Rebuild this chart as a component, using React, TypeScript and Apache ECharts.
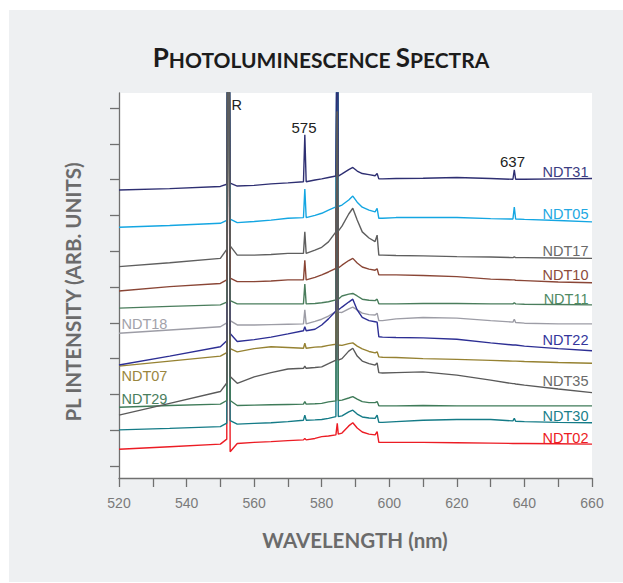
import React, { useEffect, useRef } from "react";
import * as echarts from "echarts";

// Wavelength grid (nm) shared by all spectra
const wavelengths = [520, 535, 550, 551.9, 552.25, 552.4, 552.55, 552.9, 555, 560, 565, 570, 574.6, 575, 575.4, 578, 580, 582, 584.2, 584.6, 584.9, 586, 588, 589.2, 590.5, 592, 594, 595.8, 596.4, 596.9, 598, 602, 610, 620, 630, 636.6, 637, 637.4, 640, 650, 660];

// PL intensity (arb. units, offset stacked)
const ndt31 = [7.71, 7.75, 7.81, 7.87, 14, 14, 14, 7.90, 7.82, 7.84, 7.88, 7.91, 7.94, 9.25, 7.94, 7.99, 8.02, 8.06, 8.10, 14, 8.10, 8.16, 8.28, 8.34, 8.24, 8.17, 8.14, 8.11, 8.17, 8.02, 8.02, 8.03, 8.04, 8.06, 8.03, 8.01, 8.27, 8.01, 8.01, 8.02, 8.03];
const ndt05 = [6.67, 6.72, 6.78, 6.86, 14, 14, 14, 6.90, 6.80, 6.83, 6.87, 6.92, 6.94, 7.74, 6.94, 7.00, 7.06, 7.15, 7.24, 14, 7.25, 7.29, 7.43, 7.54, 7.37, 7.23, 7.15, 7.10, 7.20, 6.92, 6.92, 6.94, 6.94, 6.94, 6.91, 6.90, 7.23, 6.90, 6.89, 6.86, 6.82];
const ndt17 = [5.57, 5.68, 5.80, 6.05, 14, 14, 14, 6.15, 5.89, 5.89, 5.91, 5.94, 5.94, 6.54, 5.94, 6.03, 6.11, 6.26, 6.54, 9.9, 6.56, 6.70, 7.04, 7.20, 6.87, 6.54, 6.37, 6.27, 6.45, 5.89, 5.89, 5.88, 5.87, 5.85, 5.84, 5.82, 5.84, 5.82, 5.82, 5.81, 5.80];
const ndt10 = [4.89, 5.01, 5.10, 5.20, 14, 14, 14, 5.25, 5.15, 5.15, 5.17, 5.20, 5.20, 5.75, 5.20, 5.27, 5.34, 5.42, 5.52, 14, 5.53, 5.61, 5.74, 5.80, 5.67, 5.56, 5.50, 5.47, 5.51, 5.34, 5.34, 5.34, 5.32, 5.29, 5.22, 5.20, 5.20, 5.19, 5.18, 5.14, 5.12];
const ndt11 = [4.41, 4.46, 4.50, 4.58, 14, 14, 14, 4.62, 4.53, 4.53, 4.53, 4.53, 4.53, 5.08, 4.53, 4.54, 4.56, 4.59, 4.64, 14, 4.66, 4.75, 4.80, 4.82, 4.75, 4.66, 4.63, 4.62, 4.66, 4.53, 4.53, 4.53, 4.54, 4.54, 4.53, 4.53, 4.56, 4.53, 4.52, 4.51, 4.50];
const ndt18 = [3.71, 3.80, 3.89, 4.00, 14, 14, 14, 4.06, 3.94, 3.94, 3.95, 3.96, 3.97, 4.36, 3.97, 4.04, 4.10, 4.19, 4.31, 14, 4.30, 4.29, 4.39, 4.44, 4.36, 4.27, 4.23, 4.22, 4.27, 4.06, 4.06, 4.11, 4.15, 4.13, 4.06, 4.02, 4.10, 4.01, 3.99, 3.97, 3.97];
const ndt22 = [2.82, 3.07, 3.33, 3.50, 14, 14, 14, 3.70, 3.48, 3.53, 3.60, 3.69, 3.78, 3.89, 3.78, 3.82, 3.94, 4.11, 4.33, 14, 4.36, 4.44, 4.58, 4.66, 4.36, 4.15, 4.06, 4.03, 4.02, 3.61, 3.60, 3.59, 3.58, 3.54, 3.44, 3.38, 3.38, 3.38, 3.35, 3.28, 3.22];
const ndt07 = [2.79, 2.93, 3.07, 3.17, 14, 14, 14, 3.28, 3.19, 3.28, 3.33, 3.31, 3.29, 3.43, 3.29, 3.32, 3.33, 3.37, 3.40, 14, 3.38, 3.37, 3.42, 3.44, 3.35, 3.27, 3.20, 3.16, 3.19, 3.05, 3.04, 3.03, 3.00, 2.98, 2.95, 2.93, 2.93, 2.93, 2.92, 2.89, 2.87];
const ndt35 = [1.42, 1.75, 2.08, 2.32, 14, 14, 14, 2.50, 2.31, 2.49, 2.61, 2.71, 2.73, 2.79, 2.73, 2.75, 2.77, 2.86, 2.96, 9.9, 2.96, 3.00, 3.21, 3.29, 3.07, 2.93, 2.86, 2.82, 2.88, 2.61, 2.60, 2.61, 2.63, 2.54, 2.40, 2.30, 2.30, 2.29, 2.26, 2.15, 2.05];
const ndt29 = [1.64, 1.69, 1.73, 1.83, 14, 14, 14, 1.83, 1.69, 1.70, 1.71, 1.72, 1.73, 1.80, 1.73, 1.74, 1.75, 1.79, 1.82, 14, 1.83, 1.84, 1.90, 1.94, 1.87, 1.80, 1.77, 1.77, 1.80, 1.68, 1.68, 1.68, 1.69, 1.68, 1.68, 1.68, 1.68, 1.68, 1.68, 1.68, 1.68];
const ndt30 = [1.01, 1.05, 1.10, 1.20, 14, 14, 14, 1.27, 1.17, 1.19, 1.21, 1.24, 1.28, 1.42, 1.28, 1.29, 1.30, 1.33, 1.38, 14, 1.38, 1.40, 1.51, 1.56, 1.45, 1.37, 1.34, 1.33, 1.42, 1.22, 1.22, 1.24, 1.28, 1.30, 1.30, 1.26, 1.33, 1.25, 1.24, 1.22, 1.21];
const ndt02 = [0.47, 0.54, 0.61, 0.75, 14, 14, 14, 0.40, 0.63, 0.66, 0.68, 0.71, 0.73, 0.77, 0.73, 0.77, 0.82, 0.84, 0.87, 1.19, 0.89, 0.92, 1.12, 1.21, 1.06, 0.95, 0.89, 0.87, 0.96, 0.66, 0.66, 0.66, 0.66, 0.65, 0.64, 0.63, 0.63, 0.63, 0.63, 0.62, 0.61];

// Drawing order (later drawn on top)
const seriesNames = ["NDT02", "NDT30", "NDT29", "NDT07", "NDT18", "NDT22", "NDT11", "NDT10", "NDT05", "NDT31", "NDT17", "NDT35"];
const seriesValues = [ndt02, ndt30, ndt29, ndt07, ndt18, ndt22, ndt11, ndt10, ndt05, ndt31, ndt17, ndt35];
const seriesColors = ["#ec1c24", "#147b87", "#3f7b59", "#968232", "#9d9da6", "#2d2f94", "#4a7d5c", "#8a4636", "#14a6e2", "#2e2f72", "#5f5f5f", "#5a5a5a"];

const yTicks = [0, 1, 2, 3, 4, 5, 6, 7, 8, 9, 10];

// Right-side labels: name, color, y
const rightLabels = [
  { name: "NDT31", color: "#3b3c82", y: 171.5 },
  { name: "NDT05", color: "#22a8e2", y: 214 },
  { name: "NDT17", color: "#6a6a6a", y: 251 },
  { name: "NDT10", color: "#8d4b3b", y: 275 },
  { name: "NDT11", color: "#4f8a64", y: 299 },
  { name: "NDT22", color: "#34369c", y: 340 },
  { name: "NDT35", color: "#6a6a6a", y: 380.5 },
  { name: "NDT30", color: "#1a808b", y: 416 },
  { name: "NDT02", color: "#ec1c24", y: 437.5 },
];
const leftLabels = [
  { name: "NDT18", color: "#a2a2aa", y: 323.5 },
  { name: "NDT07", color: "#9a8640", y: 376 },
  { name: "NDT29", color: "#4a7e5e", y: 398.5 },
];

export default function App() {
  const ref = useRef<HTMLDivElement>(null);
  useEffect(() => {
    const chart = echarts.init(ref.current!, null, { renderer: "svg" });
    const series = seriesNames.map((name, i) => ({
      type: "line",
      name,
      data: wavelengths.map((w, j) => [w, seriesValues[i][j]]),
      showSymbol: false,
      symbol: "none",
      clip: true,
      lineStyle: { color: seriesColors[i], width: 1.4 },
      itemStyle: { color: seriesColors[i] },
      silent: true,
    }));
    const labelFont = '14.5px "Liberation Sans", Arial, sans-serif';
    const graphic: any[] = [
      { type: "rect", shape: { x: 0, y: 0, width: 9, height: 583 }, style: { fill: "#ffffff" }, silent: true },
      { type: "rect", shape: { x: 0, y: 0, width: 623, height: 10 }, style: { fill: "#ffffff" }, silent: true },
      { type: "rect", shape: { x: 0, y: 582, width: 623, height: 1 }, style: { fill: "#ffffff" }, silent: true },
      {
        type: "text",
        x: 321,
        y: 57,
        style: {
          text: "{a|P}{b|HOTOLUMINESCENCE }{a|S}{b|PECTRA}",
          textAlign: "center",
          textVerticalAlign: "middle",
          rich: {
            a: { fontSize: 26, fontWeight: "bold", fontFamily: "Lato", fill: "#1c1c1c", color: "#1c1c1c", verticalAlign: "bottom" },
            b: { fontSize: 21, fontWeight: "bold", fontFamily: "Lato", fill: "#1c1c1c", color: "#1c1c1c", verticalAlign: "bottom" },
          },
        },
      },
      {
        type: "text",
        x: 73,
        y: 292,
        rotation: Math.PI / 2,
        style: {
          text: "PL INTENSITY (ARB. UNITS)",
          font: 'bold 20.5px Lato',
          fill: "#6b6b6b",
          textAlign: "center",
          textVerticalAlign: "middle",
        },
      },
      {
        type: "text",
        x: 355,
        y: 540,
        style: {
          text: "WAVELENGTH (nm)",
          font: 'bold 20.5px Lato',
          fill: "#6b6b6b",
          textAlign: "center",
          textVerticalAlign: "middle",
        },
      },
      { type: "text", x: 231.5, y: 105, style: { text: "R", font: labelFont, fill: "#222", textAlign: "left", textVerticalAlign: "middle" } },
      { type: "text", x: 304, y: 127, style: { text: "575", font: '15px "Liberation Sans", Arial, sans-serif', fill: "#222", textAlign: "center", textVerticalAlign: "middle" } },
      { type: "text", x: 512.5, y: 161, style: { text: "637", font: '15px "Liberation Sans", Arial, sans-serif', fill: "#222", textAlign: "center", textVerticalAlign: "middle" } },
      ...rightLabels.map((l) => ({
        type: "text",
        x: 588.5,
        y: l.y,
        style: { text: l.name, font: labelFont, fill: l.color, textAlign: "right", textVerticalAlign: "middle" },
      })),
      ...leftLabels.map((l) => ({
        type: "text",
        x: 121.5,
        y: l.y,
        style: { text: l.name, font: labelFont, fill: l.color, textAlign: "left", textVerticalAlign: "middle" },
      })),
    ];
    chart.setOption({
      animation: false,
      backgroundColor: "#eef0f2",
      grid: { left: 119, right: 31, top: 93, bottom: 105, show: true, backgroundColor: "#ffffff", borderWidth: 0 },
      xAxis: {
        type: "value",
        min: 520,
        max: 660,
        interval: 10,
        axisLine: { show: true, onZero: false, lineStyle: { color: "#707070", width: 1.3 } },
        axisTick: { show: true, inside: false, length: 9, lineStyle: { color: "#707070", width: 1.3 } },
        axisLabel: {
          formatter: (v: number) => (v % 20 === 0 ? String(v) : ""),
          color: "#7a7a7a",
          fontSize: 14,
          fontFamily: '"Liberation Sans", Arial, sans-serif',
          margin: 18,
        },
        splitLine: { show: false },
      },
      yAxis: {
        type: "value",
        min: -0.335,
        max: 10.42,
        axisLine: { show: true, onZero: false, lineStyle: { color: "#707070", width: 1.3 } },
        axisTick: { show: true, inside: false, length: 9, customValues: yTicks, lineStyle: { color: "#707070", width: 1.3 } },
        axisLabel: { show: false },
        splitLine: { show: false },
      },
      series,
      graphic,
    });
    return () => chart.dispose();
  }, []);
  return <div ref={ref} style={{ position: "absolute", left: 0, top: 0, width: 623, height: 583 }} />;
}
